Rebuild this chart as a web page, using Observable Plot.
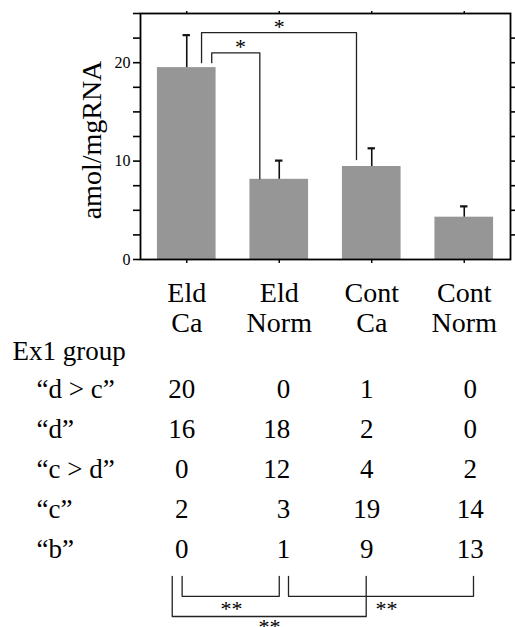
<!DOCTYPE html>
<html><head><meta charset="utf-8">
<script src="https://cdn.jsdelivr.net/npm/d3@7"></script>
<script src="https://cdn.jsdelivr.net/npm/@observablehq/plot@0.6"></script>
<style>
html,body{margin:0;padding:0;background:#fff;}
#chart{width:515px;height:627px;overflow:hidden;position:relative;}
#chart svg{display:block;}
#chart svg text{font-family:'Liberation Serif','Times New Roman',serif;}
</style></head><body><div id="chart"></div>
<script>
// ---- bar chart data ----
const categories = ["Eld\nCa", "Eld\nNorm", "Cont\nCa", "Cont\nNorm"];
const means = [19.5, 8.15, 9.45, 4.3];
const sems = [3.3, 1.9, 1.85, 1.1];
const yTickLabels = [0, 10, 20];

// significance brackets above the bars (x in category units, y in amol/mgRNA)
const topBracketX1 = [0.27, 0.16];
const topBracketX2 = [0.79, 1.835];
const topBracketY1 = [20, 20];
const topBracketY2 = [8.2, 10.15];
const topBracketTop = [21.0, 23.05];
const topStarX = [0.58, 1.0];
const topStarText = ["*", "*"];

// ---- Ex1 group table ----
const rowLabels = ["\u201cd > c\u201d", "\u201cd\u201d", "\u201cc > d\u201d", "\u201cc\u201d", "\u201cb\u201d"];
const rowDgtC = [20, 0, 1, 0];
const rowD = [16, 18, 2, 0];
const rowCgtD = [0, 12, 4, 2];
const rowC = [2, 3, 19, 14];
const rowB = [0, 1, 9, 13];
const tableTitle = "Ex1 group";

// significance brackets below the table (x in category units, y in row units)
const botBracketX1 = [-0.05, 1.1, -0.157];
const botBracketX2 = [1.0, 3.1, 1.94];
const botBracketTop = [4.47, 4.47, 4.47];
const botBracketBottom = [4.97, 4.97, 5.475];
const botStarX = [0.484, 2.16, 0.895];
const botStarY = [5.45, 5.45, 5.9];
const botStarText = ["**", "**", "**"];

const serif = "'Liberation Serif', 'Times New Roman', serif";

const bars = categories.map((c, i) => ({i, c, mean: means[i], sem: sems[i]}));
const topBr = topBracketX1.flatMap((x1, k) => [
  {k, x: x1, y: topBracketY1[k]},
  {k, x: x1, y: topBracketTop[k]},
  {k, x: topBracketX2[k], y: topBracketTop[k]},
  {k, x: topBracketX2[k], y: topBracketY2[k]}
]);
const topStars = topStarX.map((x, k) => ({x, y: topBracketTop[k], t: topStarText[k]}));

const p1 = Plot.plot({
  width: 515, height: 340,
  marginTop: 13, marginLeft: 140, marginRight: 5, marginBottom: 81,
  style: {fontFamily: serif, background: "#fff", color: "#000", overflow: "visible"},
  x: {domain: [-0.5, 3.5]},
  y: {domain: [0, 25]},
  marks: [
    Plot.rectY(bars, {x1: d => d.i - 0.317, x2: d => d.i + 0.317, y: "mean", fill: "#969696"}),
    Plot.ruleX(bars, {x: "i", y1: "mean", y2: d => d.mean + d.sem, stroke: "#111", strokeWidth: 1.6}),
    Plot.ruleY(bars, {y: d => d.mean + d.sem, x1: d => d.i - 0.04, x2: d => d.i + 0.04, stroke: "#111", strokeWidth: 2.2}),
    Plot.line(topBr, {x: "x", y: "y", z: "k", stroke: "#222", strokeWidth: 1.3}),
    Plot.text(topStars, {x: "x", y: "y", text: "t", fontSize: 22, lineAnchor: "bottom", dy: 1, fontFamily: serif}),
    Plot.frame({stroke: "#000", strokeWidth: 1.8}),
    Plot.axisY({ticks: d3.range(0, 25.01, 2.5), tickSize: 7, tickPadding: 3,
      tickFormat: d => yTickLabels.includes(d) ? String(d) : "", fontSize: 16, label: null, strokeWidth: 1.6, fontFamily: serif}),
    Plot.axisY({anchor: "right", ticks: d3.range(2.5, 22.51, 2.5), tickSize: 5, tickFormat: () => "", label: null, strokeWidth: 1.6}),
    Plot.axisX({anchor: "top", ticks: [0, 1, 2, 3], tickSize: 3, tickFormat: () => "", label: null, strokeWidth: 1.4}),
    Plot.axisX({ticks: [0, 1, 2, 3], tickSize: 4, tickPadding: 18, tickFormat: i => categories[i],
      fontSize: 28, lineHeight: 1.05, label: null, strokeWidth: 1.4, fontFamily: serif}),
    Plot.text(["amol/mgRNA"], {frameAnchor: "left", dx: -40, dy: 3.5, rotate: -90, fontSize: 28,
      textAnchor: "middle", lineAnchor: "bottom", fontFamily: serif})
  ]
});

// table plot
const rows = [rowDgtC, rowD, rowCgtD, rowC, rowB];
const cells = rows.flatMap((r, ri) => r.map((v, ci) => ({ri, ci, v})));
const colDx = [-5, 11, -5, 6];
const colAnchor = ["middle", "end", "middle", "middle"];
const botBr = botBracketX1.flatMap((x1, k) => [
  {k, x: x1, y: botBracketTop[k]},
  {k, x: x1, y: botBracketBottom[k]},
  {k, x: botBracketX2[k], y: botBracketBottom[k]},
  {k, x: botBracketX2[k], y: botBracketTop[k]}
]);
const botStars = botStarX.map((x, k) => ({x, y: botStarY[k], t: botStarText[k]}));

const p2 = Plot.plot({
  width: 515, height: 287,
  marginTop: 0, marginLeft: 0, marginRight: 0, marginBottom: 0,
  style: {fontFamily: serif, background: "#fff", color: "#000", overflow: "visible"},
  x: {domain: [-0.5, 3.5], range: [140, 510], axis: null},
  y: {domain: [0, 4], range: [57, 217], axis: null},
  marks: [
    Plot.text([tableTitle], {frameAnchor: "top-left", dx: 12, dy: 19, lineAnchor: "bottom", textAnchor: "start", fontSize: 27, fontFamily: serif}),
    Plot.text(rowLabels, {y: (d, i) => i, frameAnchor: "left", dx: 36, textAnchor: "start", lineAnchor: "bottom", fontSize: 27, fontFamily: serif}),
    ...[0, 1, 2, 3].map(ci => Plot.text(cells.filter(d => d.ci === ci), {
      x: "ci", y: "ri", text: d => String(d.v), dx: colDx[ci], textAnchor: colAnchor[ci],
      lineAnchor: "bottom", fontSize: 27, fontFamily: serif})),
    Plot.line(botBr, {x: "x", y: "y", z: "k", stroke: "#222", strokeWidth: 1.3}),
    Plot.text(botStars, {x: "x", y: "y", text: "t", fontSize: 22, lineAnchor: "bottom", fontFamily: serif})
  ]
});

const chart = document.getElementById("chart");
chart.appendChild(p1);
chart.appendChild(p2);
</script>
</body></html>
